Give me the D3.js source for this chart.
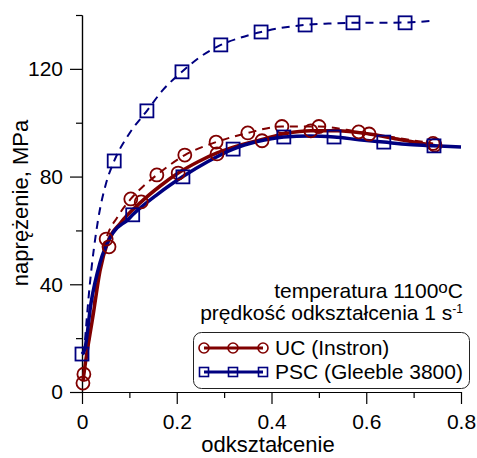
<!DOCTYPE html>
<html><head><meta charset="utf-8">
<script src="https://cdn.jsdelivr.net/npm/d3@7"></script>
<style>body{margin:0;background:#fff}svg{display:block;font-family:"Liberation Sans",Arial,sans-serif}</style>
</head><body><svg id="c" width="477" height="458"></svg>
<script>
// ---- data ----
const xTicksMajor = [0, 0.2, 0.4, 0.6, 0.8];
const xTicksMinor = [0.1, 0.3, 0.5, 0.7];
const yTicksMajor = [0, 40, 80, 120];
const yTicksMinor = [20, 60, 100, 140];

// PSC (Gleeble 3800) — dashed curve
const pscDashStrain = [0.004, 0.016, 0.034, 0.05, 0.068, 0.1, 0.137, 0.17, 0.211, 0.25, 0.293, 0.335, 0.378, 0.42, 0.471, 0.52, 0.572, 0.63, 0.682, 0.741];
const pscDashStress = [14, 39, 64, 77, 85.8, 96, 104.4, 112, 118.9, 124.5, 128.9, 131.6, 133.7, 135.2, 136.3, 136.8, 137.1, 137.1, 137.2, 137.9];
const pscDashMarkStrain = [0.068, 0.137, 0.211, 0.293, 0.378, 0.471, 0.572, 0.682];
const pscDashMarkStress = [85.8, 104.4, 118.9, 128.9, 133.7, 136.3, 137.1, 137.1];

// PSC — solid curve
const pscSolidStrain = [0, 0.006, 0.019, 0.038, 0.065, 0.097, 0.107, 0.16, 0.213, 0.265, 0.319, 0.37, 0.426, 0.48, 0.532, 0.585, 0.637, 0.69, 0.743, 0.8];
const pscSolidStress = [14, 16, 33, 48, 59, 64, 65.8, 73.5, 80, 85.5, 90.2, 93, 94.7, 95.1, 94.7, 93.7, 92.8, 91.9, 91.4, 91];
const pscSolidMarkStrain = [0, 0.107, 0.213, 0.319, 0.426, 0.532, 0.637, 0.743];
const pscSolidMarkStress = [14.1, 65.8, 79.9, 90.2, 94.7, 94.7, 92.8, 91.4];

// UC (Instron) — solid curve
const ucSolidStrain = [0.002, 0.006, 0.023, 0.038, 0.055, 0.08, 0.125, 0.165, 0.203, 0.245, 0.285, 0.33, 0.38, 0.43, 0.483, 0.54, 0.606, 0.67, 0.745];
const ucSolidStress = [4, 9.3, 28, 45, 56, 62.5, 70.6, 76.5, 81.3, 85.5, 88.8, 91.5, 93.8, 96, 97, 97, 95.8, 93.8, 91.5];
const ucSolidMarkStrain = [0.002, 0.057, 0.125, 0.203, 0.285, 0.38, 0.483, 0.606, 0.745];
const ucSolidMarkStress = [3.3, 53.9, 70.6, 81.3, 88.4, 93.3, 97, 95.8, 91.7];

// UC — dashed curve
const ucDashStrain = [0.004, 0.013, 0.03, 0.051, 0.075, 0.103, 0.13, 0.158, 0.217, 0.283, 0.35, 0.422, 0.5, 0.584, 0.66, 0.741];
const ucDashStress = [6.6, 16.7, 39, 56.8, 65, 71.7, 76.5, 80.6, 88, 92.8, 96.2, 98.6, 98.6, 96.6, 94.5, 92.3];
const ucDashMarkStrain = [0.004, 0.051, 0.103, 0.158, 0.217, 0.283, 0.35, 0.422, 0.5, 0.584, 0.741];
const ucDashMarkStress = [6.6, 56.8, 71.7, 80.6, 88, 92.8, 96.2, 98.6, 98.6, 96.6, 92.3];

const legendLabels = ["UC (Instron)", "PSC (Gleeble 3800)"];
const xTitle = "odkształcenie";
const yTitle = "naprężenie, MPa";

// ---- drawing ----
const RED = "#800000", BLUE = "#000080";
const svg = d3.select("#c");
const x = d3.scaleLinear().domain([0, 0.8]).range([82, 461]);
const y = d3.scaleLinear().domain([0, 140]).range([392, 15]);
const zip = (a, b) => a.map((v, i) => [v, b[i]]);
const line = d3.line().x(d => x(d[0])).y(d => y(d[1])).curve(d3.curveMonotoneX);

// axes
const gx = svg.append("g").attr("transform", "translate(0,392)");
gx.call(d3.axisBottom(x).tickValues(xTicksMajor).tickSize(12).tickSizeOuter(0).tickPadding(10).tickFormat(d => d === 0 ? "0" : d3.format(".1f")(d)));
gx.append("g").call(d3.axisBottom(x).tickValues(xTicksMinor).tickSize(6).tickSizeOuter(0).tickFormat(""));
gx.selectAll(".domain").attr("stroke", "#000");
gx.select(".domain").attr("d", "M70,0.5H461");
const gy = svg.append("g").attr("transform", "translate(82,0)");
gy.call(d3.axisLeft(y).tickValues(yTicksMajor).tickSize(12).tickSizeOuter(0).tickPadding(7));
gy.append("g").call(d3.axisLeft(y).tickValues(yTicksMinor).tickSize(6).tickSizeOuter(0).tickFormat(""));
svg.selectAll(".tick line").attr("stroke", "#000").attr("stroke-width", 1.2);
svg.selectAll(".domain").attr("stroke-width", 1.2);
svg.selectAll(".tick text").attr("font-size", 21).attr("fill", "#000").attr("font-family", "Liberation Sans, Arial, sans-serif");

svg.append("text").attr("x", 268).attr("y", 452).attr("text-anchor", "middle").attr("font-size", 22).text(xTitle);
svg.append("text").attr("transform", "translate(28,203) rotate(-90)").attr("text-anchor", "middle").attr("font-size", 22).text(yTitle);

// curves
function curve(xs, ys, color, w, dash) {
  svg.append("path").datum(zip(xs, ys)).attr("d", line).attr("fill", "none")
    .attr("stroke", color).attr("stroke-width", w).attr("stroke-dasharray", dash || null)
    .attr("stroke-linejoin", "round");
}
function circles(xs, ys) {
  svg.append("g").selectAll("circle").data(zip(xs, ys)).join("circle")
    .attr("cx", d => x(d[0])).attr("cy", d => y(d[1])).attr("r", 6.5)
    .attr("fill", "none").attr("stroke", RED).attr("stroke-width", 1.8);
}
function squares(xs, ys) {
  svg.append("g").selectAll("rect").data(zip(xs, ys)).join("rect")
    .attr("x", d => x(d[0]) - 6.5).attr("y", d => y(d[1]) - 6.5).attr("width", 13).attr("height", 13)
    .attr("fill", "none").attr("stroke", BLUE).attr("stroke-width", 1.8);
}
curve(pscDashStrain, pscDashStress, BLUE, 2, "8,6");
curve(ucDashStrain, ucDashStress, RED, 2, "8,6");
curve(ucSolidStrain, ucSolidStress, RED, 3.5);
curve(pscSolidStrain, pscSolidStress, BLUE, 3.5);
circles(ucDashMarkStrain, ucDashMarkStress);
circles(ucSolidMarkStrain, ucSolidMarkStress);
squares(pscDashMarkStrain, pscDashMarkStress);
squares(pscSolidMarkStrain, pscSolidMarkStress);

// annotation
const t1 = svg.append("text").attr("x", 463).attr("y", 298).attr("text-anchor", "end").attr("font-size", 21);
t1.append("tspan").text("temperatura 1100");
t1.append("tspan").attr("font-size", 17).attr("dy", -5).text("o");
t1.append("tspan").attr("dy", 5).text("C");
const t2 = svg.append("text").attr("x", 463).attr("y", 320).attr("text-anchor", "end").attr("font-size", 21);
t2.append("tspan").text("prędkość odkształcenia 1 s");
t2.append("tspan").attr("font-size", 12).attr("dy", -7).text("-1");

// legend
svg.append("rect").attr("x", 193.5).attr("y", 332.5).attr("width", 276).attr("height", 56).attr("rx", 8)
  .attr("fill", "#fff").attr("stroke", "#222").attr("stroke-width", 1);
const legY = [348, 372];
const legMarkX = [204, 233, 263];
[RED, BLUE].forEach((c, i) => {
  svg.append("line").attr("x1", 204).attr("x2", 263).attr("y1", legY[i]).attr("y2", legY[i]).attr("stroke", c).attr("stroke-width", 3);
  legMarkX.forEach(mx => {
    if (i === 0) svg.append("circle").attr("cx", mx).attr("cy", legY[i]).attr("r", 5).attr("fill", "none").attr("stroke", c).attr("stroke-width", 1.6);
    else svg.append("rect").attr("x", mx - 4.5).attr("y", legY[i] - 4.5).attr("width", 9).attr("height", 9).attr("fill", "none").attr("stroke", c).attr("stroke-width", 1.6);
  });
  svg.append("text").attr("x", 275).attr("y", legY[i] + 7).attr("font-size", 21).text(legendLabels[i]);
});
</script></body></html>
